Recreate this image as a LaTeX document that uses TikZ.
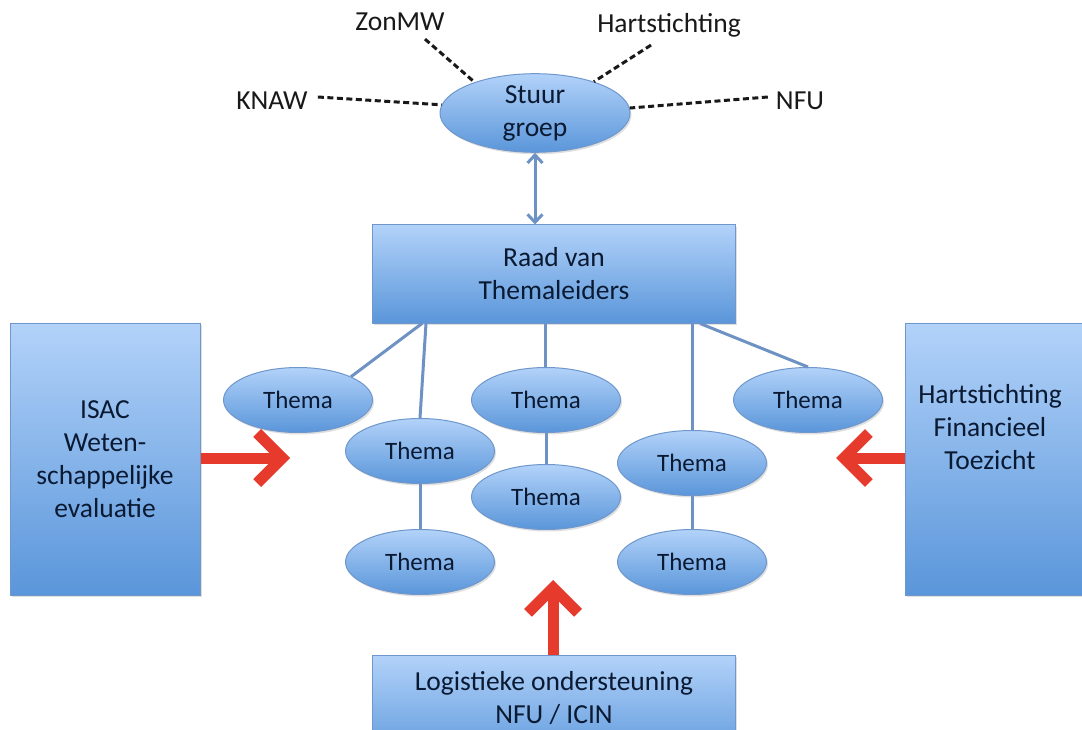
\documentclass[tikz,border=0pt]{standalone}
\usepackage{fontspec}
\setmainfont{Carlito}
\usetikzlibrary{shapes.geometric,arrows.meta,shadows}
\definecolor{boxtop}{HTML}{B2D2F9}
\definecolor{boxbot}{HTML}{5A96DA}
\definecolor{boxedge}{HTML}{6F97CC}
\definecolor{txt}{HTML}{0B1A33}
\definecolor{connc}{HTML}{6E92C4}
\definecolor{redarr}{HTML}{E63A2C}
\begin{document}
\begin{tikzpicture}[x=1pt,y=-1pt,
  font=\fontsize{27.5}{33}\selectfont,
  shadeblue/.style={draw=boxedge, line width=1pt, top color=boxtop, bottom color=boxbot,
    text=txt, align=center, inner sep=0pt,
    drop shadow={opacity=0.25, shadow xshift=1.5pt, shadow yshift=-2pt}},
  bluebox/.style={shadeblue, rectangle},
  themenode/.style={shadeblue, ellipse, minimum width=149pt, minimum height=65pt,
    font=\fontsize{25}{30}\selectfont},
  lbl/.style={text=black!90, inner sep=2pt},
  dashline/.style={draw=black!90, line width=3pt, dash pattern=on 6pt off 3.5pt},
  connline/.style={draw=connc, line width=3pt},
  dbl/.style={connline, {Straight Barb[length=8pt,width=15pt]}-{Straight Barb[length=8pt,width=15pt]}},
  redarrow/.style={draw=redarr, line width=11pt, -{Straight Barb[length=25pt,width=50pt]}}
]
\clip (0,0) rectangle (1082,730);
\fill[white] (0,0) rectangle (1082,730);

% steering group
\node[shadeblue, ellipse, minimum width=190pt, minimum height=72pt] (stuur) at (535,113) {Stuur\\groep};
\node[lbl] (knaw) at (272,101) {KNAW};
\node[lbl] (zon) at (400,22) {ZonMW};
\node[lbl] (hs) at (669,25) {Hartstichting};
\node[lbl] (nfu) at (800,101) {NFU};
\draw[dashline] ([xshift=8pt,yshift=4pt]knaw.east) -- (stuur.175);
\draw[dashline] ([xshift=25pt,yshift=-6pt]zon.south) -- (stuur.153);
\draw[dashline] ([xshift=-18pt,yshift=-6pt]hs.south) -- (stuur.28);
\draw[dashline] ([xshift=-6pt,yshift=4pt]nfu.west) -- (stuur.3);

% council
\node[bluebox, minimum width=363pt, minimum height=98pt] (raad) at (554,274) {Raad van\\Themaleiders};
\draw[dbl] (stuur.south) -- (stuur.south |- raad.north);

% side boxes
\node[bluebox, minimum width=190pt, minimum height=272pt] (isac) at (105,459) {ISAC\\Weten-\\schappelijke\\evaluatie};
\node[bluebox, minimum width=190pt, minimum height=272pt] (hart) at (1000,459) {};
\node[text=txt, align=center] (hartt) at (990,427) {Hartstichting\\Financieel\\Toezicht};
\node[bluebox, minimum width=363pt, minimum height=110pt] (logi) at (554,710) {};
\node[text=txt, align=center] (logit) at (554,698) {Logistieke ondersteuning\\NFU / ICIN};

% themes
\node[themenode] (t1) at (298,400) {Thema};
\node[themenode] (t2) at (420,451) {Thema};
\node[themenode] (t3) at (420,562) {Thema};
\node[themenode] (t4) at (546,400) {Thema};
\node[themenode] (t5) at (546,497) {Thema};
\node[themenode] (t6) at (692,463) {Thema};
\node[themenode] (t7) at (692,562) {Thema};
\node[themenode] (t8) at (808,400) {Thema};

% connectors
\draw[connline] ([xshift=50pt]raad.south west) -- (t1.north east);
\draw[connline] ([xshift=54pt]raad.south west) -- (t2.north);
\draw[connline] ([xshift=-9pt]raad.south) -- ([xshift=-1pt]t4.north);
\draw[connline] ([xshift=138pt]raad.south) -- (t6.north);
\draw[connline] ([xshift=146pt]raad.south) -- (t8.north);
\draw[connline] (t2.south) -- (t3.north);
\draw[connline] (t4.south) -- (t5.north);
\draw[connline] (t6.south) -- (t7.north);

% red arrows
\coordinate (la) at (290,458);
\coordinate (ra) at (836,458);
\coordinate (ba) at (553,580);
\draw[redarrow] (isac.east |- la) -- (la);
\draw[redarrow] (hart.west |- ra) -- (ra);
\draw[redarrow] (logi.north -| ba) -- (ba);
\end{tikzpicture}
\end{document}
